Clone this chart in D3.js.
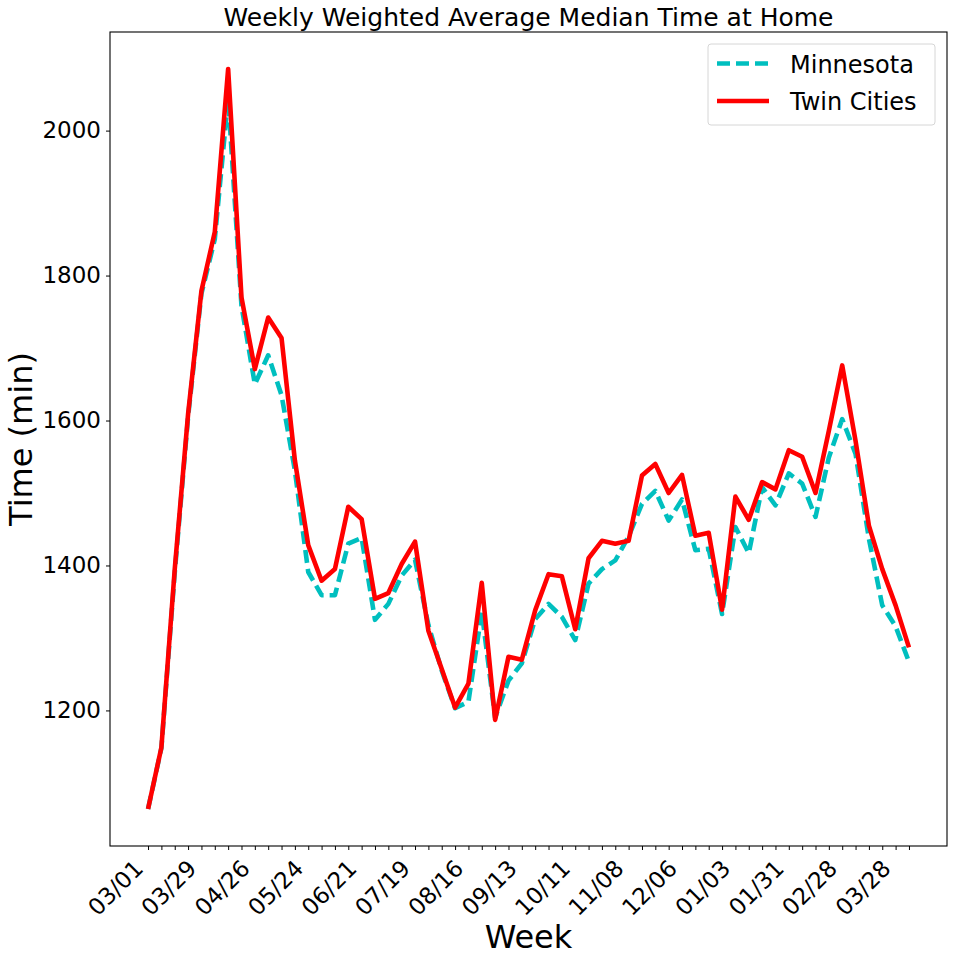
<!DOCTYPE html>
<html>
<head>
<meta charset="utf-8">
<script src="https://cdn.jsdelivr.net/npm/d3@7"></script>
<style>
  body { margin: 0; background: #fff; }
  text { font-family: "DejaVu Sans", sans-serif; fill: #000; }
</style>
</head>
<body>
<div id="chart"></div>
<script>

// weekly dates (week starting)
var weeks = ["2020-03-01","2020-03-08","2020-03-15","2020-03-22","2020-03-29","2020-04-05","2020-04-12","2020-04-19","2020-04-26",
  "2020-05-03","2020-05-10","2020-05-17","2020-05-24","2020-05-31","2020-06-07","2020-06-14","2020-06-21","2020-06-28",
  "2020-07-05","2020-07-12","2020-07-19","2020-07-26","2020-08-02","2020-08-09","2020-08-16","2020-08-23","2020-08-30",
  "2020-09-06","2020-09-13","2020-09-20","2020-09-27","2020-10-04","2020-10-11","2020-10-18","2020-10-25","2020-11-01",
  "2020-11-08","2020-11-15","2020-11-22","2020-11-29","2020-12-06","2020-12-13","2020-12-20","2020-12-27","2021-01-03",
  "2021-01-10","2021-01-17","2021-01-24","2021-01-31","2021-02-07","2021-02-14","2021-02-21","2021-02-28","2021-03-07",
  "2021-03-14","2021-03-21","2021-03-28","2021-04-04"];

var minnesota = [1064,1148,1390,1605,1775,1850,2045,1758,1650,1690,1635,1531,1391,1359,1359,1430,1438,1325,1347,1386,
  1408,1318,1255,1203,1212,1336,1190,1241,1265,1326,1347,1329,1297,1375,1395,1407,1440,1485,1503,1462,
  1491,1421,1423,1333,1453,1417,1508,1483,1527,1513,1467,1549,1602,1554,1437,1345,1316,1267];

var twinCities = [1064,1149,1395,1609,1779,1860,2085,1770,1671,1742,1714,1545,1428,1379,1395,1481,1464,1354,1362,1402,
  1433,1310,1257,1204,1237,1376,1187,1274,1270,1338,1388,1385,1312,1410,1434,1430,1434,1524,1540,1500,
  1525,1441,1445,1339,1495,1463,1515,1505,1559,1550,1500,1586,1676,1572,1455,1395,1345,1287];

var yTicks = [1200, 1400, 1600, 1800, 2000];
var seriesNames = ["Minnesota", "Twin Cities"];
var seriesColors = ["#00bfbf", "#ff0000"];

var margin = {top: 32, right: 7, bottom: 116, left: 110};
var width = 954 - margin.left - margin.right;
var height = 962 - margin.top - margin.bottom;

var parse = d3.timeParse("%Y-%m-%d");
var dates = weeks.map(parse);
var fmt = d3.timeFormat("%m/%d");

var svg = d3.select('#chart')
  .append('svg')
    .attr('width', 954)
    .attr('height', 962)
  .append('g')
    .attr('transform', 'translate(' + margin.left + ',' + margin.top + ')');

// 5% padding like matplotlib
var t0 = dates[0], t1 = dates[dates.length - 1];
var pad = (t1 - t0) * 0.05;
var x = d3.scaleTime()
  .domain([new Date(+t0 - pad), new Date(+t1 + pad)])
  .range([0, width]);

var all = minnesota.concat(twinCities);
var ymin = d3.min(all), ymax = d3.max(all);
var ypad = (ymax - ymin) * 0.05;
var y = d3.scaleLinear()
  .domain([ymin - ypad, ymax + ypad])
  .range([height, 0]);

// x axis
var xAxis = svg.append("g")
  .attr("class", "xaxis")
  .attr('transform', 'translate(0,' + height + ')')
  .call(d3.axisBottom(x).tickValues(dates).tickSizeOuter(0).tickSize(4)
    .tickFormat(function(d, i) { return i % 4 === 0 ? fmt(d) : ""; }));
xAxis.select(".domain").remove();
xAxis.selectAll("line").attr("stroke", "#000").attr("stroke-width", 1);
xAxis.selectAll("text")
  .style("font-size", "23px")
  .attr("text-anchor", "end")
  .attr("dy", null)
  .attr("y", null)
  .attr("transform", "translate(-4,24) rotate(-45)");

// y axis
var yAxis = svg.append("g")
  .attr("class", "yaxis")
  .call(d3.axisLeft(y).tickValues(yTicks).tickFormat(d3.format("d"))
    .tickSizeOuter(0).tickSize(4).tickPadding(5));
yAxis.select(".domain").remove();
yAxis.selectAll("line").attr("stroke", "#000").attr("stroke-width", 1);
yAxis.selectAll("text").style("font-size", "23px");

// frame
svg.append("rect")
  .attr("width", width)
  .attr("height", height)
  .attr("fill", "none")
  .attr("stroke", "#000")
  .attr("stroke-width", 1.1);

var line = function(vals) {
  return d3.line()
    .x(function(d, i) { return x(dates[i]); })
    .y(function(d) { return y(d); })(vals);
};

svg.append("path")
  .attr("d", line(minnesota))
  .attr("fill", "none")
  .attr("stroke", seriesColors[0])
  .attr("stroke-width", 4.6)
  .attr("stroke-dasharray", "13,6")
  .attr("stroke-linejoin", "round");

svg.append("path")
  .attr("d", line(twinCities))
  .attr("fill", "none")
  .attr("stroke", seriesColors[1])
  .attr("stroke-width", 4.6)
  .attr("stroke-linejoin", "round");

// title
svg.append('text')
  .attr('x', width / 2)
  .attr('y', -6)
  .style('text-anchor', 'middle')
  .style('font-size', '25px')
  .text('Weekly Weighted Average Median Time at Home');

// axis labels
svg.append('text')
  .attr('x', width / 2)
  .attr('y', height + 102)
  .style('text-anchor', 'middle')
  .style('font-size', '32px')
  .text('Week');

svg.append('text')
  .attr('transform', 'translate(' + (-78) + ',' + (height / 2) + ') rotate(-90)')
  .style('text-anchor', 'middle')
  .style('font-size', '32px')
  .text('Time (min)');

// legend
var lg = svg.append("g").attr("transform", "translate(" + (708 - margin.left) + "," + (44 - margin.top) + ")");
lg.append("rect")
  .attr("width", 227).attr("height", 81)
  .attr("rx", 3)
  .attr("fill", "#fff").attr("fill-opacity", 0.8)
  .attr("stroke", "#d6d6d6");
seriesNames.forEach(function(name, i) {
  var yy = 19.5 + i * 37.5;
  lg.append("line")
    .attr("x1", 9).attr("x2", 61)
    .attr("y1", yy).attr("y2", yy)
    .attr("stroke", seriesColors[i])
    .attr("stroke-width", 4.6)
    .attr("stroke-dasharray", i === 0 ? "13,6" : null);
  lg.append("text")
    .attr("x", 82).attr("y", yy + 9)
    .style("font-size", "24px")
    .text(name);
});
</script>
</body>
</html>
